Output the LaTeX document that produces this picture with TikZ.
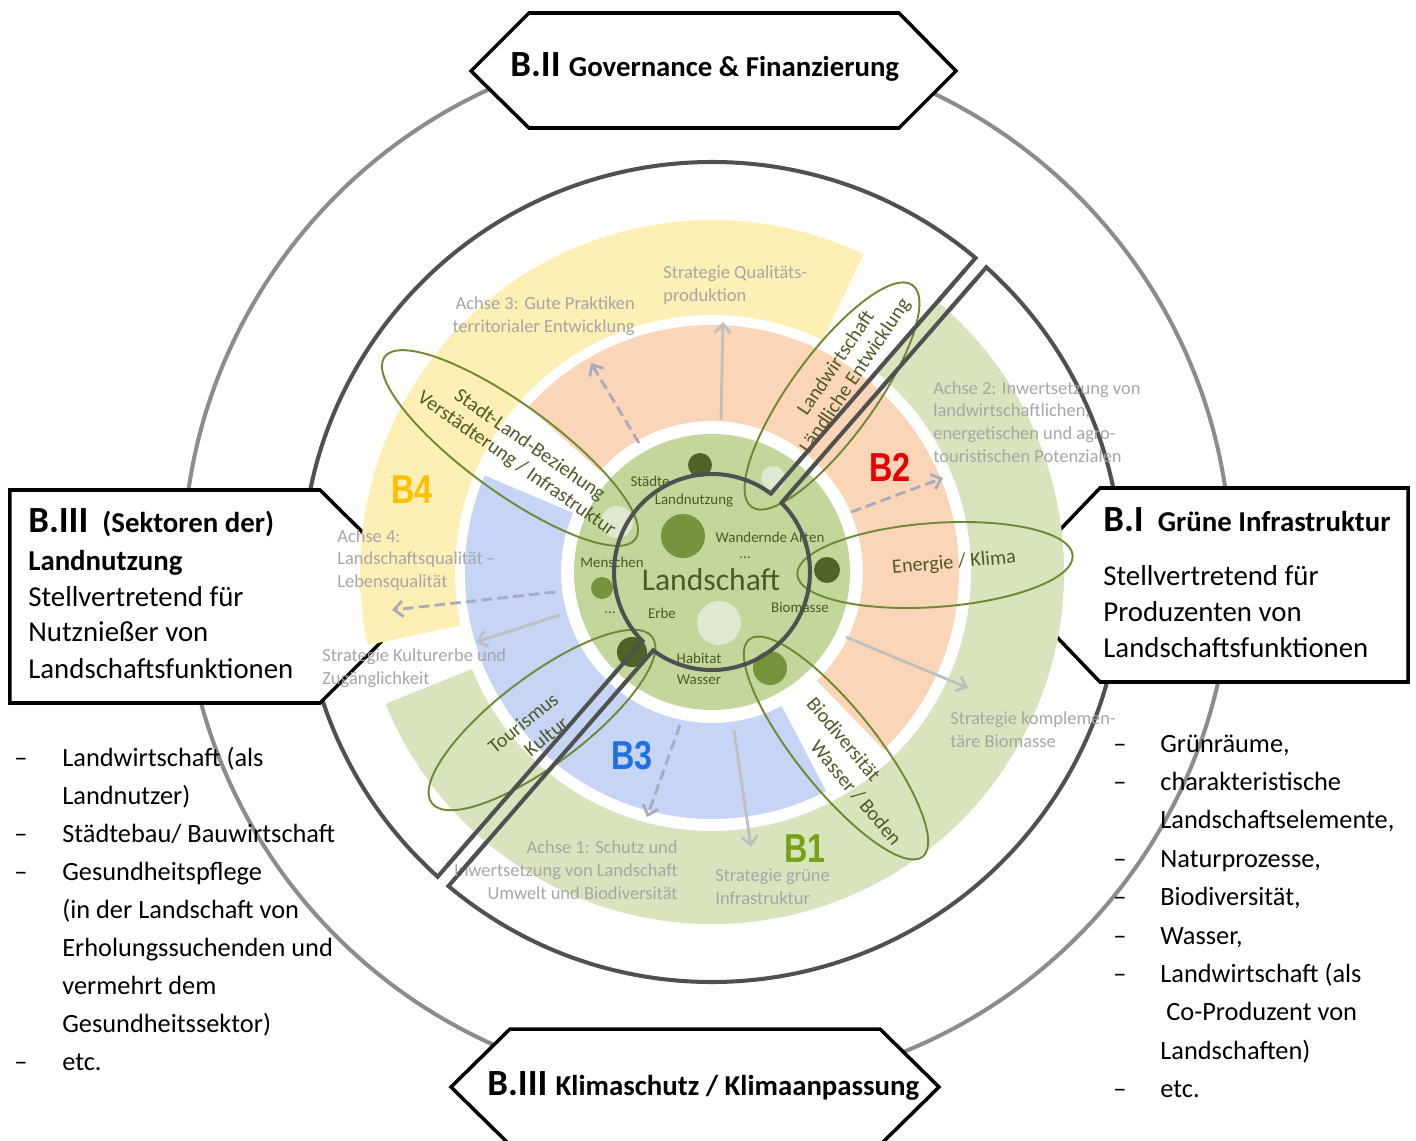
\documentclass[tikz,border=0pt]{standalone}
\usepackage{fontspec}
\setmainfont{Carlito}
\newfontfamily\markfont{Liberation Sans}
\usetikzlibrary{arrows.meta}

\definecolor{pinkB}{HTML}{FBD5B8}
\definecolor{blueB}{HTML}{C6D4F6}
\definecolor{yellowB}{HTML}{FEEFB5}
\definecolor{greenB}{HTML}{D7E4BD}
\definecolor{greenCore}{HTML}{C3D69B}
\definecolor{darkDot}{HTML}{4F6228}
\definecolor{midDot}{HTML}{77933C}
\definecolor{lightDot}{HTML}{DFE9CF}
\definecolor{lensGreen}{HTML}{6F8A35}
\definecolor{axisGray}{HTML}{A6A6A6}
\definecolor{arrowGray}{HTML}{BFBFBF}
\definecolor{dashGray}{HTML}{A8ABBD}
\definecolor{labelOlive}{HTML}{4F5A26}
\definecolor{splitGray}{HTML}{505050}
\definecolor{ringGray}{HTML}{8C8C8C}
\definecolor{markFour}{HTML}{FFC000}
\definecolor{markTwo}{HTML}{E60000}
\definecolor{markThree}{HTML}{1F6FE5}
\definecolor{markOne}{HTML}{76A214}

\newcommand{\ringpart}[5]{\fill[#1] (#2:#4) arc[start angle=#2,end angle=#3,radius=#4] -- (#3:#5) arc[start angle=#3,end angle=#2,radius=#5] -- cycle;}
\newcommand{\splitshape}{%
\draw[splitline] (50:410) arc[start angle=50,end angle=228,radius=410] -- (224.9:98) arc[start angle=224.9,end angle=53.1,radius=98] -- cycle;
\draw[splitline] (230:410) arc[start angle=230,end angle=408,radius=410] -- (404.9:98) arc[start angle=404.9,end angle=233.1,radius=98] -- cycle;}

\begin{document}
\begin{tikzpicture}[x=0.02cm,y=0.02cm]
\tikzstyle{outerring} = [draw=ringGray,line width=2.3pt]
\tikzstyle{splitline} = [draw=splitGray,line width=2.3pt,line join=miter]
\tikzstyle{box} = [draw=black,fill=white,line width=2pt,line join=miter]
\tikzstyle{lens} = [draw=lensGreen,line width=1.1pt]
\tikzstyle{flow} = [draw=arrowGray,line width=1.6pt,-{Straight Barb[length=5pt,width=9pt]}]
\tikzstyle{flowdash} = [flow,draw=dashGray,dash pattern=on 6pt off 3pt]
\tikzstyle{axistext} = [text=axisGray,inner sep=0,font=\fontsize{10.5}{13}\selectfont]
\tikzstyle{coretext} = [text=labelOlive,inner sep=0,font=\fontsize{8.5}{10}\selectfont]
\tikzstyle{lenstext} = [text=labelOlive,inner sep=0,font=\fontsize{11.5}{13}\selectfont]
\tikzstyle{bmark} = [inner sep=0,xscale=.8,font=\markfont\bfseries\fontsize{23}{25}\selectfont]
\tikzstyle{boxtext} = [inner sep=0,anchor=base west,font=\fontsize{16.4}{20}\selectfont]
\tikzstyle{listtext} = [inner sep=0,anchor=base west,font=\fontsize{15}{18}\selectfont]

\useasboundingbox (-712,-568) rectangle (704,572);

% outer rings
\draw[outerring] (-5,6) circle[radius=524];
\splitshape

% boxes
\draw[box] (-241,501) -- (-183,559) -- (187,559) -- (244,501) -- (187,444) -- (-183,444) -- cycle;
\draw[box] (-261,-515) -- (-202,-457) -- (168,-457) -- (227,-515) -- (168,-573) -- (-202,-573) -- cycle;
\draw[box] (-702,82) -- (-392,82) -- (-285,-24) -- (-392,-131) -- (-702,-131) -- cycle;
\draw[box] (388,84) -- (696,84) -- (696,-110) -- (388,-110) -- (295,-13) -- cycle;

% coloured bands
\ringpart{yellowB}{64.5}{192}{352}{257}
\ringpart{greenB}{202}{410.5}{352}{259}
\ringpart{pinkB}{-46}{138}{247}{151}
\ringpart{blueB}{157}{297.5}{247}{151}
\fill[greenCore] (0,0) circle[radius=138];

\foreach \x/\y/\r/\c in {-12/107/12/darkDot,61/94/12/lightDot,-95/50/16/lightDot,-29/36/22/midDot,-110/-16/11/midDot,115/2/13/darkDot,7/-51/22/lightDot,-80/-80/15/darkDot,58/-96/17/midDot}
  \fill[\c] (\x,\y) circle[radius=\r];

% arrows
\coordinate (topS) at (9,152);      \coordinate (topE) at (11,250);
\coordinate (topDS) at (-73,129);   \coordinate (topDE) at (-121,209);
\coordinate (rightDS) at (139,60);  \coordinate (rightDE) at (231,94);
\coordinate (rightS) at (134,-65);  \coordinate (rightE) at (256,-116);
\coordinate (downS) at (22,-158);   \coordinate (downE) at (39,-275);
\coordinate (downDS) at (-32,-153); \coordinate (downDE) at (-65,-245);
\coordinate (leftS) at (-152,-43);  \coordinate (leftE) at (-236,-70);
\coordinate (leftDS) at (-157,-20); \coordinate (leftDE) at (-320,-38);
\draw[flow] (topS) -- (topE);
\draw[flow] (rightS) -- (rightE);
\draw[flow] (downS) -- (downE);
\draw[flow] (leftS) -- (leftE);
\draw[flowdash] (topDS) -- (topDE);
\draw[flowdash] (rightDS) -- (rightDE);
\draw[flowdash] (downDS) -- (downDE);
\draw[flowdash] (leftDS) -- (leftDE);

% axis texts
\node[axistext,anchor=west,align=left] (stratQual) at (-49,287) {Strategie Qualitäts-\\produktion};
\node[axistext,anchor=east,align=right] (achseDrei) at (-77,256) {Achse 3: Gute Praktiken\\territorialer Entwicklung};
\node[axistext,anchor=west,align=left] (achseZwei) at (221,150) {Achse 2: Inwertsetzung von\\landwirtschaftlichen,\\energetischen und agro-\\touristischen Potenzialen};
\node[axistext,anchor=west,align=left] (achseVier) at (-375,12) {Achse 4:\\Landschaftsqualität\,--\\Lebensqualität};
\node[axistext,anchor=west,align=left] (stratKult) at (-390,-96) {Strategie Kulturerbe und\\Zugänglichkeit};
\node[axistext,anchor=west,align=left] (stratBio) at (238,-158) {Strategie komplemen-\\täre Biomasse};
\node[axistext,anchor=east,align=right] (achseEins) at (-34,-298) {Achse 1: Schutz und\\Inwertsetzung von Landschaft\\Umwelt und Biodiversität};
\node[axistext,anchor=west,align=left] (stratGruen) at (3,-315) {Strategie grüne\\Infrastruktur};

% lenses
\draw[lens,rotate around={-36:(-202,124)}] (-202,124) ellipse[x radius=155,y radius=44];
\draw[lens,rotate around={54:(120,176)}] (120,176) ellipse[x radius=137,y radius=42];
\draw[lens,rotate around={4:(223,7)}] (223,7) ellipse[x radius=138,y radius=42];
\draw[lens,rotate around={-51.4:(124,-176)}] (124,-176) ellipse[x radius=139,y radius=40];
\draw[lens,rotate around={37:(-170,-148)}] (-170,-148) ellipse[x radius=138,y radius=44];

\node[lenstext,rotate=-35,align=center] (stadtLand) at (-189,117) {Stadt-Land-Beziehung\\Verstädterung / Infrastruktur};
\node[lenstext,rotate=56,align=center] (landwirt) at (134,202) {Landwirtschaft\\Ländliche Entwicklung};
\node[lenstext,rotate=5] (energie) at (242,9) {Energie / Klima};
\node[lenstext,rotate=-50] (biodiv) at (132,-167) {Biodiversität};
\node[lenstext,rotate=-50] (wasserBoden) at (144,-221) {Wasser / Boden};
\node[lenstext,rotate=39] (tourismus) at (-189,-151) {Tourismus};
\node[lenstext,rotate=39] (kultur) at (-166,-164) {Kultur};

% band marks
\node[bmark,text=markFour] (bFour) at (-300,82) {B4};
\node[bmark,text=markTwo] (bTwo) at (178,105) {B2};
\node[bmark,text=markThree] (bThree) at (-80,-184) {B3};
\node[bmark,text=markOne] (bOne) at (93,-277) {B1};

% core labels
\node[coretext] (staedte) at (-62,91) {Städte};
\node[coretext] (landnutzung) at (-18,71) {Landnutzung};
\node[coretext] (wandernde) at (58,35) {Wandernde Arten};
\node[coretext] (dotsA) at (33,14) {\dots};
\node[coretext] (menschen) at (-100,10) {Menschen};
\node[text=labelOlive,inner sep=0,font=\fontsize{18}{20}\selectfont] (landschaft) at (-1,-8) {Landschaft};
\node[coretext] (dotsB) at (-102,-41) {\dots};
\node[coretext] (erbe) at (-50,-41) {Erbe};
\node[coretext] (biomasse) at (88,-35) {Biomasse};
\node[coretext] (habitat) at (-13,-86) {Habitat};
\node[coretext] (wasser) at (-13,-108) {Wasser};

% split outline on top of the bands
\begin{scope}
\clip (0,0) circle[radius=395];
\splitshape
\end{scope}

% box texts
\node[boxtext] (govText) at (-202,495) {\bfseries\fontsize{21}{24}\selectfont B.II \fontsize{16.4}{20}\selectfont Governance \& Finanzierung};
\node[boxtext] (klimaText) at (-225,-523) {\bfseries\fontsize{21}{24}\selectfont B.III \fontsize{16.4}{20}\selectfont Klimaschutz / Klimaanpassung};
\node[boxtext] (useHead) at (-684,40) {\bfseries\fontsize{21}{24}\selectfont B.III\hspace{8pt}\fontsize{16.4}{20}\selectfont(Sektoren der)};
\node[boxtext] (useHeadB) at (-684,2) {\bfseries Landnutzung};
\foreach \txt/\y [count=\i] in {Stellvertretend für/-34,Nutznießer von/-69,Landschaftsfunktionen/-106}
  \node[boxtext] (useLine\i) at (-684,\y) {\txt};
\node[boxtext] (greenHead) at (391,41) {\bfseries\fontsize{21}{24}\selectfont B.I\hspace{8pt}\fontsize{16.4}{20}\selectfont Grüne Infrastruktur};
\foreach \txt/\y [count=\i] in {Stellvertretend für/-13,Produzenten von/-49,Landschaftsfunktionen/-85}
  \node[boxtext] (greenLine\i) at (391,\y) {\txt};

% lists
\foreach \txt [count=\i] in {{Landwirtschaft (als},{Landnutzer)},{Städtebau/ Bauwirtschaft},{Gesundheitspflege},{(in der Landschaft von},{Erholungssuchenden und},{vermehrt dem},{Gesundheitssektor)},{etc.}}
  \node[listtext] (useItem\i) at (-650,{-194-38*(\i-1)}) {\txt};
\foreach \i in {1,3,4,9}
  \node[listtext] (useDash\i) at (-698,{-194-38*(\i-1)}) {--};
\foreach \txt [count=\i] in {{Grünräume,},{charakteristische},{Landschaftselemente,},{Naturprozesse,},{Biodiversität,},{Wasser,},{Landwirtschaft (als},{\ Co-Produzent von},{Landschaften)},{etc.}}
  \node[listtext] (greenItem\i) at (448,{-180-38.4*(\i-1)}) {\txt};
\foreach \i in {1,2,4,5,6,7,10}
  \node[listtext] (greenDash\i) at (401,{-180-38.4*(\i-1)}) {--};
\end{tikzpicture}
\end{document}
